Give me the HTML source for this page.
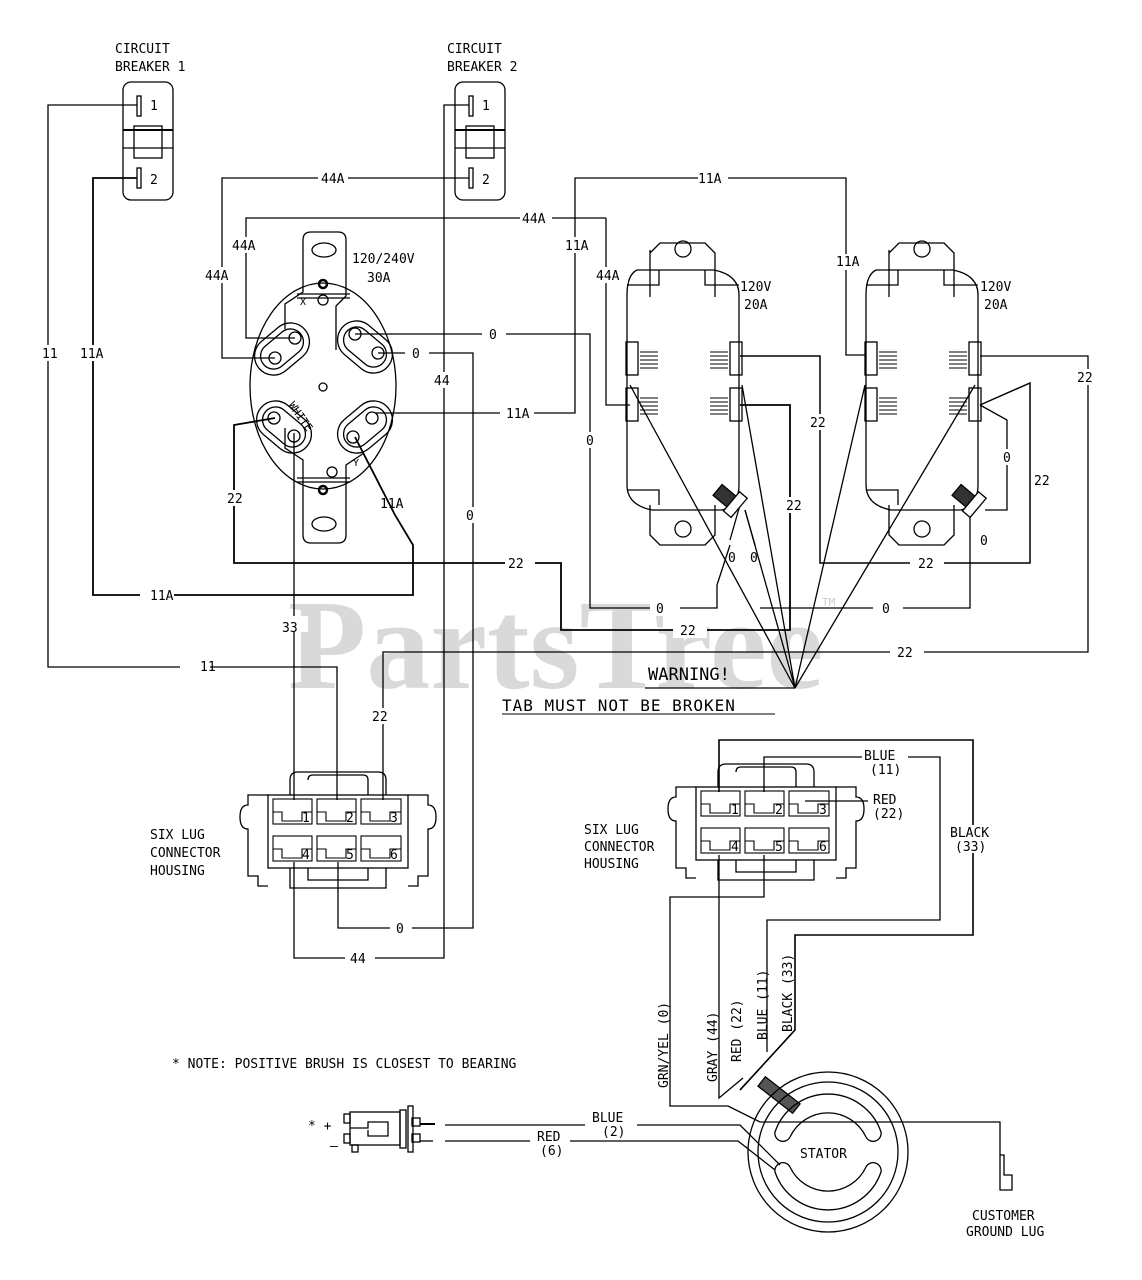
<!DOCTYPE html>
<html><head><meta charset="utf-8"><style>
html,body{margin:0;padding:0;background:#fff}
svg{display:block}
text{font-family:"DejaVu Sans Mono","Liberation Mono",monospace;font-size:13px;fill:#000}
</style></head><body>
<svg width="1142" height="1280" viewBox="0 0 1142 1280" xmlns="http://www.w3.org/2000/svg">
<text x="288" y="688" style="font-family:'Liberation Serif',serif;font-size:128px;font-weight:bold;fill:#d9d9d9">PartsTree</text>
<text x="822" y="606" style="font-size:11px;fill:#ccc">TM</text>
<g fill="none" stroke="#000" stroke-width="1.3">
<!-- Circuit breakers -->
<rect x="123" y="82" width="50" height="118" rx="8"/>
<rect x="137" y="96" width="4" height="20"/><rect x="137" y="168" width="4" height="20"/>
<rect x="134" y="126" width="28" height="32"/><line x1="123" y1="130" x2="173" y2="130" stroke-width="2"/><line x1="123" y1="148" x2="173" y2="148"/>
<rect x="455" y="82" width="50" height="118" rx="8"/>
<rect x="469" y="96" width="4" height="20"/><rect x="469" y="168" width="4" height="20"/>
<rect x="466" y="126" width="28" height="32"/><line x1="455" y1="130" x2="505" y2="130" stroke-width="2"/><line x1="455" y1="148" x2="505" y2="148"/>
<!-- wires left -->
<polyline points="137,105 48,105 48,667 337,667 337,800"/>
<polyline points="137,178 93,178 93,595 413,595 413,545 395,515 355,437" stroke-width="1.8"/>
<polyline points="469,178 222,178 222,358 275,358"/>
<polyline points="606,218 246,218 246,338 295,338"/>
<polyline points="606,218 606,405 630,405"/>
<polyline points="469,105 444,105 444,958 294,958 294,862"/>
<polyline points="355,334 590,334 590,608 717,608 717,585 730,545"/>
<polyline points="378,353 473,353 473,928 338,928 338,862"/>
<polyline points="375,413 575,413 575,178 846,178 846,355 866,355"/>
<polyline points="275,418 234,425 234,563 561,563 561,630 790,630 790,405 740,405" stroke-width="1.8"/>
<polyline points="740,356 820,356 820,563 1030,563 1030,383 980,405" stroke-width="1.5"/>
<polyline points="383,800 383,652 1088,652 1088,356 980,356"/>
<polyline points="760,608 970,608 970,510 980,505"/>
<polyline points="980,405 1007,420 1007,510 985,510"/>
<line x1="294" y1="433" x2="294" y2="800"/>
<line x1="730" y1="540" x2="740" y2="505"/><line x1="745" y1="510" x2="755" y2="545"/>
<!-- warning arrows -->
<polyline points="630,385 795,688 742,385"/><line x1="795" y1="688" x2="865" y2="385"/><line x1="795" y1="688" x2="975" y2="385"/>
<line x1="795" y1="688" x2="745" y2="510"/><line x1="645" y1="688" x2="795" y2="688"/>
<!-- 30A outlet -->
<ellipse cx="323" cy="386" rx="73" ry="103"/>
<path d="M303,240 q0,-8 8,-8 h27 q8,0 8,8 v56 l-10,10 v44 M303,240 v52 l-18,12 v25 M303,480 v55 q0,8 8,8 h27 q8,0 8,-8 v-55 M303,480 v-20 l-18,-12 v-20 M346,480 v-15 l18,-12"/>
<line x1="297" y1="294" x2="350" y2="294"/><line x1="297" y1="298" x2="350" y2="298"/>
<line x1="297" y1="478" x2="350" y2="478"/><line x1="297" y1="482" x2="350" y2="482"/>
<ellipse cx="324" cy="250" rx="12" ry="7"/><ellipse cx="324" cy="524" rx="12" ry="7"/>
<circle cx="323" cy="284" r="4" stroke-width="2.5"/><circle cx="323" cy="300" r="5"/><circle cx="323" cy="387" r="4"/><circle cx="332" cy="472" r="5"/><circle cx="323" cy="490" r="4" stroke-width="2.5"/>
<g transform="translate(282,349) rotate(-40)"><rect x="-30" y="-19" width="60" height="38" rx="19"/><rect x="-24" y="-13" width="48" height="26" rx="13"/></g>
<circle cx="295" cy="338" r="6"/><circle cx="275" cy="358" r="6"/>
<g transform="translate(365,347) rotate(40)"><rect x="-30" y="-19" width="60" height="38" rx="19"/><rect x="-24" y="-13" width="48" height="26" rx="13"/></g>
<circle cx="355" cy="334" r="6"/><circle cx="378" cy="353" r="6"/>
<g transform="translate(284,427) rotate(40)"><rect x="-30" y="-19" width="60" height="38" rx="19"/><rect x="-24" y="-13" width="48" height="26" rx="13"/></g>
<circle cx="274" cy="418" r="6"/><circle cx="294" cy="436" r="6"/>
<g transform="translate(365,427) rotate(-40)"><rect x="-30" y="-19" width="60" height="38" rx="19"/><rect x="-24" y="-13" width="48" height="26" rx="13"/></g>
<circle cx="372" cy="418" r="6"/><circle cx="353" cy="437" r="6"/>
<!-- duplex outlets -->
<g id="dx">
<path d="M650,297 v-44 l10,-10 h45 l10,10 v44 M650,270 v-20"/>
<path d="M659,270 h-22 q-10,5 -10,25 v190 q0,20 25,25 h70 q17,-5 17,-25 v-190 q0,-20 -25,-25 z"/>
<path d="M659,270 v15 h-32 M705,270 v15 h34"/>
<path d="M650,505 v30 l10,10 h45 l10,-10 v-30 M659,505 v-15 h-32"/>
<circle cx="683" cy="249" r="8"/><circle cx="683" cy="529" r="8"/>
<rect x="626" y="342" width="12" height="33"/><rect x="626" y="388" width="12" height="33"/>
<rect x="730" y="342" width="12" height="33"/><rect x="730" y="388" width="12" height="33"/>
<g stroke-width="1">
<path d="M640,352h18M640,356h18M640,360h18M640,364h18M640,368h18"/>
<path d="M640,398h18M640,402h18M640,406h18M640,410h18M640,414h18"/>
<path d="M710,352h18M710,356h18M710,360h18M710,364h18M710,368h18"/>
<path d="M710,398h18M710,402h18M710,406h18M710,410h18M710,414h18"/>
</g>
<rect x="715" y="490" width="22" height="14" transform="rotate(40 726 497)" fill="#333"/>
<rect x="730" y="492" width="10" height="25" transform="rotate(40 735 505)" fill="#fff"/>
</g>
<use href="#dx" x="239"/>
<!-- left connector -->
<g id="cn">
<rect x="268" y="795" width="140" height="73"/>
<path d="M268,795 h-20 v10 q-8,0 -8,12 q0,12 8,12 v47 h10 v10 h10 M408,795 h20 v10 q8,0 8,12 q0,12 -8,12 v47 h-10 v10 h-10"/>
<path d="M290,795 v-15 q0,-8 8,-8 h80 q8,0 8,8 v15 M290,868 v20 h96 v-20 M308,780 q0,-5 5,-5 h50 q5,0 5,5 v15 M308,868 v12 h60 v-12"/>
<g stroke-width="1.1">
<rect x="273" y="799" width="39" height="25"/><rect x="317" y="799" width="39" height="25"/><rect x="361" y="799" width="40" height="25"/>
<rect x="273" y="836" width="39" height="25"/><rect x="317" y="836" width="39" height="25"/><rect x="361" y="836" width="40" height="25"/>
<path d="M273,812h9v9h20v-9h10M317,812h9v9h20v-9h10M361,812h9v9h20v-9h11M273,849h9v9h20v-9h10M317,849h9v9h20v-9h10M361,849h9v9h20v-9h11"/>
</g>
</g>
<use href="#cn" x="428" y="-8"/>
<!-- right connector wires -->
<polyline points="719,792 719,740 973,740 973,935 795,935 795,1030 740,1090" stroke-width="1.6"/>
<polyline points="764,792 764,757 940,757 940,920 767,920 767,1052"/>
<polyline points="805,801 868,801 M913,801 913,912 743,912 743,1078"/>
<polyline points="719,855 719,1098 743,1078"/>
<polyline points="764,855 764,897 670,897 670,1106 728,1106 760,1122 1000,1122 1000,1155"/>
<path d="M1000,1155 h4 v20 h8 v15 h-12 z"/>
<line x1="740" y1="1090" x2="795" y2="1030"/>
<g transform="translate(779,1095) rotate(38)"><rect x="-22" y="-6" width="44" height="12" fill="#555"/></g>
<!-- stator -->
<circle cx="828" cy="1152" r="80"/>
<circle cx="828" cy="1152" r="70"/>
<path d="M775,1132 a56,56 0 0 1 106,0 a8,8 0 0 1 -15,5 a42,42 0 0 0 -76,0 a8,8 0 0 1 -15,-5 z"/>
<path d="M775,1172 a56,56 0 0 0 106,0 a8,8 0 0 0 -15,-5 a42,42 0 0 1 -76,0 a8,8 0 0 0 -15,5 z"/>
<!-- brush -->
<rect x="350" y="1112" width="50" height="33"/>
<rect x="344" y="1114" width="6" height="9"/><rect x="344" y="1134" width="6" height="9"/>
<path d="M350,1128 h18 v-6 h20 v14 h-20 v-6"/>
<rect x="352" y="1145" width="6" height="7"/>
<rect x="400" y="1110" width="6" height="38"/><rect x="408" y="1106" width="5" height="46"/>
<rect x="412" y="1118" width="8" height="8"/><rect x="412" y="1134" width="8" height="8"/>
<line x1="420" y1="1124" x2="435" y2="1124" stroke-width="2"/><line x1="420" y1="1141" x2="433" y2="1141"/>
<polyline points="445,1125 740,1125 780,1165"/>
<polyline points="445,1141 738,1141 775,1170"/>
</g>
<!-- white label backgrounds -->
<g fill="#fff">
<rect x="318" y="170" width="30" height="16"/><rect x="520" y="210" width="32" height="16"/><rect x="698" y="170" width="30" height="16"/>
<rect x="482" y="326" width="24" height="16"/><rect x="405" y="345" width="24" height="16"/><rect x="500" y="405" width="34" height="16"/>
<rect x="430" y="372" width="26" height="16"/><rect x="462" y="507" width="20" height="16"/><rect x="580" y="432" width="20" height="16"/>
<rect x="140" y="587" width="34" height="16"/><rect x="180" y="659" width="30" height="16"/><rect x="280" y="616" width="28" height="16"/>
<rect x="505" y="555" width="30" height="16"/><rect x="673" y="622" width="34" height="16"/><rect x="890" y="644" width="34" height="16"/>
<rect x="650" y="600" width="30" height="16"/><rect x="873" y="600" width="30" height="16"/><rect x="910" y="555" width="34" height="16"/>
<rect x="370" y="708" width="28" height="16"/><rect x="390" y="920" width="22" height="16"/><rect x="345" y="950" width="30" height="16"/>
<rect x="40" y="345" width="20" height="16"/><rect x="78" y="345" width="30" height="16"/><rect x="225" y="490" width="22" height="16"/>
<rect x="808" y="414" width="26" height="16"/><rect x="784" y="497" width="26" height="16"/><rect x="1075" y="369" width="28" height="16"/>
<rect x="1032" y="472" width="28" height="16"/><rect x="997" y="449" width="20" height="16"/><rect x="975" y="532" width="20" height="16"/>
<rect x="578" y="432" width="24" height="16"/><rect x="563" y="237" width="26" height="16"/><rect x="596" y="267" width="32" height="16"/>
<rect x="834" y="254" width="28" height="16"/><rect x="236" y="237" width="24" height="16"/><rect x="205" y="267" width="32" height="16"/>
<rect x="862" y="748" width="46" height="28"/><rect x="868" y="792" width="46" height="28"/><rect x="945" y="825" width="56" height="28"/>
<rect x="585" y="1110" width="52" height="28"/><rect x="530" y="1130" width="40" height="28"/>
<rect x="282" y="260" width="0" height="0"/>
</g>
<g>
<text x="115" y="53">CIRCUIT</text><text x="115" y="71">BREAKER 1</text>
<text x="447" y="53">CIRCUIT</text><text x="447" y="71">BREAKER 2</text>
<text x="150" y="110">1</text><text x="150" y="184">2</text>
<text x="482" y="110">1</text><text x="482" y="184">2</text>
<text x="321" y="183">44A</text><text x="522" y="223">44A</text><text x="698" y="183">11A</text>
<text x="232" y="250">44A</text><text x="205" y="280">44A</text><text x="565" y="250">11A</text><text x="596" y="280">44A</text><text x="836" y="266">11A</text>
<text x="352" y="263">120/240V</text><text x="367" y="282">30A</text>
<text x="740" y="291">120V</text><text x="744" y="309">20A</text>
<text x="980" y="291">120V</text><text x="984" y="309">20A</text>
<text x="489" y="339">0</text><text x="412" y="358">0</text><text x="434" y="385">44</text><text x="506" y="418">11A</text>
<text x="380" y="508">11A</text><text x="466" y="520">0</text><text x="586" y="445">0</text>
<text x="42" y="358">11</text><text x="80" y="358">11A</text><text x="227" y="503">22</text>
<text x="810" y="427">22</text><text x="786" y="510">22</text><text x="1077" y="382">22</text><text x="1034" y="485">22</text>
<text x="1003" y="462">0</text><text x="980" y="545">0</text><text x="728" y="562">0</text><text x="750" y="562">0</text>
<text x="508" y="568">22</text><text x="918" y="568">22</text><text x="150" y="600">11A</text>
<text x="656" y="613">0</text><text x="882" y="613">0</text>
<text x="680" y="635">22</text><text x="897" y="657">22</text>
<text x="282" y="632">33</text><text x="200" y="671">11</text><text x="372" y="721">22</text>
<text x="396" y="933">0</text><text x="350" y="963">44</text>
<text x="150" y="839">SIX LUG</text><text x="150" y="857">CONNECTOR</text><text x="150" y="875">HOUSING</text>
<text x="584" y="834">SIX LUG</text><text x="584" y="851">CONNECTOR</text><text x="584" y="868">HOUSING</text>
<g style="font-size:10px"><text x="302" y="822">1</text><text x="346" y="822">2</text><text x="390" y="822">3</text><text x="302" y="859">4</text><text x="346" y="859">5</text><text x="390" y="859">6</text>
<text x="731" y="814">1</text><text x="775" y="814">2</text><text x="819" y="814">3</text><text x="731" y="851">4</text><text x="775" y="851">5</text><text x="819" y="851">6</text></g>
<text x="864" y="760">BLUE</text><text x="870" y="774">(11)</text>
<text x="873" y="804">RED</text><text x="873" y="818">(22)</text>
<text x="950" y="837">BLACK</text><text x="955" y="851">(33)</text>
<text x="648" y="680" style="font-size:17px">WARNING!</text>
<line x1="645" y1="688" x2="775" y2="688" stroke="#000"/>
<text x="502" y="711" style="font-size:16px;letter-spacing:1px">TAB MUST NOT BE BROKEN</text>
<line x1="502" y1="714" x2="775" y2="714" stroke="#000"/>
<text x="172" y="1068">* NOTE: POSITIVE BRUSH IS CLOSEST TO BEARING</text>
<text x="308" y="1130">* +</text><text x="330" y="1150">–</text>
<text x="592" y="1122">BLUE</text><text x="602" y="1136">(2)</text>
<text x="537" y="1141">RED</text><text x="540" y="1155">(6)</text>
<text x="800" y="1158">STATOR</text>
<text x="972" y="1220">CUSTOMER</text><text x="966" y="1236">GROUND LUG</text>
<g style="font-size:13px">
<text transform="translate(668,1088) rotate(-90)">GRN/YEL (0)</text>
<text transform="translate(717,1082) rotate(-90)">GRAY (44)</text>
<text transform="translate(741,1062) rotate(-90)">RED (22)</text>
<text transform="translate(767,1040) rotate(-90)">BLUE (11)</text>
<text transform="translate(792,1032) rotate(-90)">BLACK (33)</text>
</g>
<text transform="translate(288,405) rotate(55)" style="font-size:11px">WHITE</text>
<text x="300" y="305" style="font-size:10px">X</text><text x="353" y="466" style="font-size:10px">Y</text>
</g>
</svg>
</body></html>
